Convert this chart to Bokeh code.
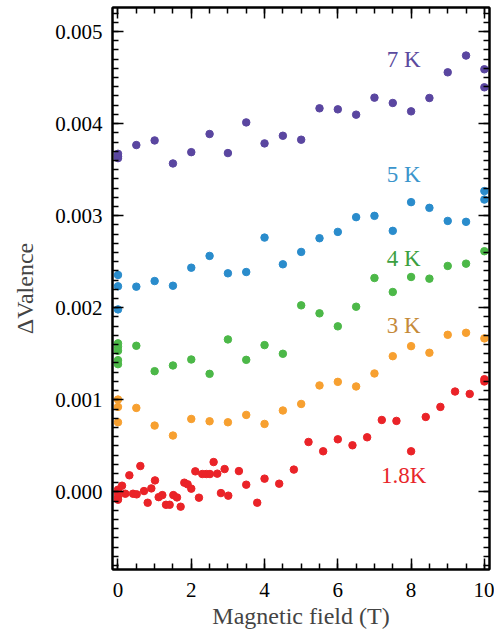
import numpy as np
from bokeh.plotting import figure
from bokeh.models import (Range1d, FixedTicker, LinearAxis, NumeralTickFormatter, Label,
                          ColumnDataSource, CustomJSTickFormatter)
from bokeh.embed import file_html
from bokeh.resources import INLINE

# ---------------- data ----------------
x_7K = [0, 0, 0, 0.5, 1, 1.5, 2, 2.5, 3, 3.5, 4, 4.5, 5, 5.5, 6, 6.5, 7, 7.5, 8, 8.5, 9, 9.5, 10, 10]
y_7K = [3.672, 3.643, 3.625, 3.767, 3.817, 3.567, 3.69, 3.887, 3.68, 4.013, 3.785, 3.868, 3.825,
        4.166, 4.155, 4.097, 4.282, 4.224, 4.133, 4.278, 4.557, 4.739, 4.59, 4.394]

x_5K = [0, 0, 0, 0.5, 1, 1.5, 2, 2.5, 3, 3.5, 4, 4.5, 5, 5.5, 6, 6.5, 7, 7.5, 8, 8.5, 9, 9.5, 10, 10]
y_5K = [2.356, 2.233, 1.982, 2.229, 2.29, 2.239, 2.435, 2.563, 2.374, 2.388, 2.762, 2.472, 2.606,
        2.755, 2.824, 2.984, 2.998, 2.835, 3.147, 3.085, 2.943, 2.933, 3.267, 3.175]

x_4K = [0, 0, 0, 0, 0, 0.5, 1, 1.5, 2, 2.5, 3, 3.5, 4, 4.5, 5, 5.5, 6, 6.5, 7, 7.5, 8, 8.5, 9, 9.5, 10]
y_4K = [1.613, 1.576, 1.532, 1.431, 1.387, 1.587, 1.311, 1.373, 1.438, 1.282, 1.656, 1.434, 1.594, 1.5,
        2.026, 1.939, 1.798, 2.011, 2.323, 2.171, 2.334, 2.316, 2.454, 2.479, 2.614]

x_3K = [0, 0, 0, 0.5, 1, 1.5, 2, 2.5, 3, 3.5, 4, 4.5, 5, 5.5, 6, 6.5, 7, 7.5, 8, 8.5, 9, 9.5, 10]
y_3K = [1.003, 0.923, 0.756, 0.912, 0.72, 0.612, 0.792, 0.767, 0.756, 0.836, 0.738, 0.884, 0.955,
        1.156, 1.195, 1.145, 1.286, 1.474, 1.583, 1.511, 1.706, 1.728, 1.667]

x_18K = [0, 0, 0, 0, 0.11, 0.2, 0.31, 0.41, 0.51, 0.61, 0.71, 0.81, 0.91, 1.01, 1.11, 1.21, 1.31,
         1.41, 1.51, 1.61, 1.71, 1.81, 1.9, 2.0, 2.11, 2.21, 2.3, 2.41, 2.51, 2.61, 2.71, 2.81,
         2.91, 3.01, 3.3, 3.5, 3.8, 4.0, 4.4, 4.8, 5.2, 5.6, 6.0, 6.4, 6.8, 7.2, 7.6, 8.0, 8.4,
         8.8, 9.2, 9.6, 10, 10]
y_18K = [0.024, -0.013, -0.057, -0.085, 0.067, -0.02, 0.18, -0.02, -0.027, 0.281, 0.009, -0.118,
         0.038, 0.125, -0.057, -0.035, -0.14, -0.14, -0.035, -0.06, -0.161, 0.1, 0.082, 0.035,
         0.223, -0.063, 0.194, 0.194, 0.194, 0.324, 0.198, -0.013, 0.248, -0.041, 0.226, 0.078,
         -0.118, 0.144, 0.089, 0.242, 0.542, 0.441, 0.571, 0.506, 0.593, 0.781, 0.771, 0.441,
         0.814, 0.923, 1.09, 1.064, 1.224, 1.199]

series_names = ["7 K", "5 K", "4 K", "3 K", "1.8K"]
series_x = [x_7K, x_5K, x_4K, x_3K, x_18K]
series_y = [y_7K, y_5K, y_4K, y_3K, y_18K]
point_colors = ["#5a46a0", "#2a8ccc", "#4cb848", "#f7a030", "#ea2328"]
label_colors = ["#5b4a9e", "#3b95cc", "#3ca040", "#c58a3a", "#e8262a"]
label_x = [7.8, 7.8, 7.8, 7.8, 7.8]
label_y = [4.695, 3.444, 2.54, 1.812, 0.18]

x_ticks = [0, 2, 4, 6, 8, 10]
y_ticks = [0.0, 0.001, 0.002, 0.003, 0.004, 0.005]
x_title = "Magnetic field (T)"
y_title = "\u0394Valence"

SERIF = "Liberation Serif"
TICKFONT = "Times"

p = figure(width=494, height=634, output_backend="svg", toolbar_location=None,
           x_range=Range1d(-0.15, 10.14), y_range=Range1d(-0.000843, 0.005261),
           min_border_left=112, min_border_right=5, min_border_top=7, min_border_bottom=65)

p.grid.visible = False
p.outline_line_color = "black"
p.outline_line_width = 2
p.background_fill_color = "white"
p.border_fill_color = "white"

for xs, ys, c in zip(series_x, series_y, point_colors):
    src = ColumnDataSource(dict(x=xs, y=[v * 1e-3 for v in ys]))
    p.scatter("x", "y", source=src, size=7.5, color=c, line_color=c)

for name, lx, ly, lc in zip(series_names, label_x, label_y, label_colors):
    p.add_layout(Label(x=lx, y=ly * 1e-3, text=name, text_color=lc, text_font=SERIF,
                       text_font_size="23px", text_align="center", text_baseline="middle"))

xt = FixedTicker(ticks=x_ticks, minor_ticks=list(np.arange(0, 10.01, 0.5)))
yt = FixedTicker(ticks=y_ticks, minor_ticks=list(np.round(np.arange(-0.0008, 0.00521, 0.0001), 6)))

def style(ax):
    ax.axis_line_width = 2
    ax.major_tick_in = 11
    ax.major_tick_out = 0
    ax.minor_tick_in = 6
    ax.minor_tick_out = 0
    ax.major_tick_line_width = 1.5
    ax.minor_tick_line_width = 1.5
    ax.major_label_text_font = TICKFONT
    ax.major_label_text_font_style = "normal"
    ax.major_label_text_font_size = "21px"
    ax.major_label_text_color = "black"
    ax.axis_label_text_font = SERIF
    ax.axis_label_text_font_size = "24px"
    ax.axis_label_text_font_style = "normal"

p.xaxis.ticker = xt
p.yaxis.ticker = yt
p.yaxis.formatter = NumeralTickFormatter(format="0.000")
p.xaxis.axis_label = x_title
p.yaxis.axis_label = y_title
style(p.xaxis[0])
style(p.yaxis[0])
p.xaxis.major_label_standoff = 13
p.yaxis.major_label_standoff = 10
p.xaxis.axis_label_standoff = 3
p.yaxis.axis_label_standoff = 14

blank = CustomJSTickFormatter(code="return ''")
top = LinearAxis(ticker=xt, formatter=blank)
right = LinearAxis(ticker=yt, formatter=blank)
style(top)
style(right)
top.major_label_standoff = 0
right.major_label_standoff = 0
p.add_layout(top, "above")
p.add_layout(right, "right")

open("out.html", "w").write(file_html(p, INLINE))
